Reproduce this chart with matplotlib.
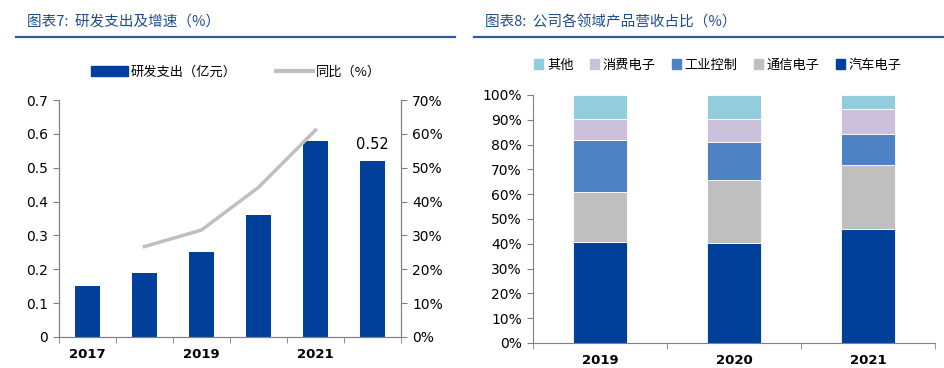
import numpy as np
import matplotlib
matplotlib.use("Agg")
import matplotlib.pyplot as plt
from matplotlib.lines import Line2D
from matplotlib.patches import Patch

plt.rcParams['font.family'] = ['DejaVu Sans', 'Noto Sans CJK SC']

# data, chart 7
years_rd = ["2017", "2018", "2019", "2020", "2021", "2022"]
year_labels_rd = ["2017", "", "2019", "", "2021", ""]
rd_spend = [0.15, 0.19, 0.25, 0.36, 0.58, 0.52]       # 亿元
rd_growth = [np.nan, 26.7, 31.6, 44.2, 61.1, np.nan]  # %

# data, chart 8
years_mix = ["2019", "2020", "2021"]
seg_names = ["汽车电子", "通信电子", "工业控制", "消费电子", "其他"]
auto_elec = [40.6, 40.3, 45.8]
comm_elec = [20.2, 25.3, 25.8]
indus_ctrl = [21.0, 15.6, 12.5]
consumer_elec = [8.6, 9.1, 10.1]
others = [9.6, 9.7, 5.8]

NAVY = "#00409A"
GRAY = "#BFBFBF"
seg_colors = [NAVY, "#BFBFBF", "#4F82C4", "#CCC1DA", "#93CDDD"]
TITLE_C = "#1F4E8C"
SPINE_C = "#808080"

W, H = 944, 368
fig = plt.figure(figsize=(W / 100, H / 100), dpi=100)

def fx(px):
    return px / W

def fy(py):
    return 1 - py / H

cjk = ['Noto Sans CJK SC', 'DejaVu Sans']

# titles + rules
fig.text(fx(27), fy(22), "图表7:  研发支出及增速（%）", family=cjk, style='italic',
         color=TITLE_C, fontsize=10.5, va='center', ha='left')
fig.text(fx(485), fy(22), "图表8:  公司各领域产品营收占比（%）", family=cjk, style='italic',
         color=TITLE_C, fontsize=10.5, va='center', ha='left')
fig.add_artist(Line2D([fx(16), fx(455)], [fy(37), fy(37)], color="#2F5C9E", lw=1.6))
fig.add_artist(Line2D([fx(474), fx(944)], [fy(37), fy(37)], color="#2F5C9E", lw=1.6))

# ---- left chart ----
ax = fig.add_axes([fx(59), fy(337), fx(401 - 59), (337 - 100) / H])
x = np.arange(len(years_rd))
ax.bar(x, rd_spend, width=0.44, color=NAVY, zorder=2)
ax.set_xlim(-0.5, len(years_rd) - 0.5)
ax.set_ylim(0, 0.7)
ax.set_yticks(np.arange(0, 0.71, 0.1))
ax.set_yticklabels(["0"] + ["%.1f" % v for v in np.arange(0.1, 0.71, 0.1)])
ax.set_xticks(x)
ax.set_xticklabels(year_labels_rd, fontweight='bold')
ax.set_xticks(np.arange(-0.5, len(years_rd)), minor=True)
ax.tick_params(axis='x', which='major', length=0, pad=8, labelsize=9.5)
ax.tick_params(axis='x', which='minor', length=4, color=SPINE_C, direction='out')
ax.tick_params(axis='y', length=4, color=SPINE_C, labelsize=10, pad=4)
for s in ["top"]:
    ax.spines[s].set_visible(False)
for s in ["left", "bottom", "right"]:
    ax.spines[s].set_color(SPINE_C)
ax.text(x[-1], rd_spend[-1] + 0.025, "%.2f" % rd_spend[-1], ha='center', va='bottom', fontsize=10.5)

ax2 = ax.twinx()
ax2.plot(x, rd_growth, color=GRAY, lw=2.5, zorder=3)
ax2.set_ylim(0, 70)
ax2.set_yticks(np.arange(0, 71, 10))
ax2.set_yticklabels(["%d%%" % v for v in range(0, 71, 10)])
ax2.tick_params(axis='y', length=4, color=SPINE_C, labelsize=10, pad=4)
ax2.spines["top"].set_visible(False)
for s in ["left", "bottom", "right"]:
    ax2.spines[s].set_color(SPINE_C)

handles = [Patch(color=NAVY), Line2D([], [], color=GRAY, lw=3)]
fig.legend(handles, ["研发支出（亿元）", "同比（%）"], loc='center',
           bbox_to_anchor=(fx(236), fy(72)), ncol=2, frameon=False,
           prop={'family': cjk, 'size': 9.5}, handlelength=2.8, handleheight=0.8,
           handletextpad=0.2, columnspacing=3.0)

# ---- right chart ----
bx = fig.add_axes([fx(533), fy(343), fx(935 - 533), (343 - 95) / H])
xm = np.arange(len(years_mix))
bottom = np.zeros(len(years_mix))
series = [auto_elec, comm_elec, indus_ctrl, consumer_elec, others]
for vals, c in zip(series, seg_colors):
    bx.bar(xm, vals, bottom=bottom, width=0.41, color=c, edgecolor='white', linewidth=0.6)
    bottom += np.array(vals)
bx.set_xlim(-0.5, len(years_mix) - 0.5)
bx.set_ylim(0, 100)
bx.set_yticks(np.arange(0, 101, 10))
bx.set_yticklabels(["%d%%" % v for v in range(0, 101, 10)])
bx.set_xticks(xm)
bx.set_xticklabels(years_mix, fontweight='bold')
bx.set_xticks(np.arange(-0.5, len(years_mix)), minor=True)
bx.tick_params(axis='x', which='major', length=0, pad=8, labelsize=9.5)
bx.tick_params(axis='x', which='minor', length=4, color=SPINE_C, direction='out')
bx.tick_params(axis='y', length=4, color=SPINE_C, labelsize=10, pad=4)
for s in ["top", "right"]:
    bx.spines[s].set_visible(False)
for s in ["left", "bottom"]:
    bx.spines[s].set_color(SPINE_C)

order = [4, 3, 2, 1, 0]
handles = [Patch(color=seg_colors[i]) for i in order]
fig.legend(handles, [seg_names[i] for i in order], loc='center',
           bbox_to_anchor=(fx(718), fy(65)), ncol=5, frameon=False,
           prop={'family': cjk, 'size': 9.5}, handlelength=0.7, handleheight=0.7,
           handletextpad=0.3, columnspacing=1.2)

fig.savefig("out.png", dpi=100)
